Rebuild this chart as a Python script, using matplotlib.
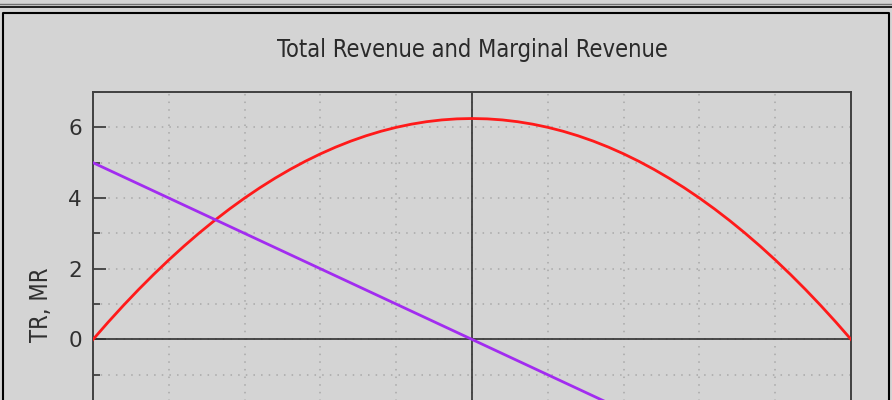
import matplotlib
matplotlib.use("Agg")
import matplotlib.pyplot as plt
from matplotlib.ticker import MultipleLocator
from matplotlib.lines import Line2D

# quantity and the two revenue series
q = [0.0, 0.1, 0.2, 0.3, 0.4, 0.5, 0.6, 0.7, 0.8, 0.9,
     1.0, 1.1, 1.2, 1.3, 1.4, 1.5, 1.6, 1.7, 1.8, 1.9,
     2.0, 2.1, 2.2, 2.3, 2.4, 2.5, 2.6, 2.7, 2.8, 2.9,
     3.0, 3.1, 3.2, 3.3, 3.4, 3.5, 3.6, 3.7, 3.8, 3.9,
     4.0, 4.1, 4.2, 4.3, 4.4, 4.5, 4.6, 4.7, 4.8, 4.9, 5.0]
tr = [0.00, 0.49, 0.96, 1.41, 1.84, 2.25, 2.64, 3.01, 3.36, 3.69,
      4.00, 4.29, 4.56, 4.81, 5.04, 5.25, 5.44, 5.61, 5.76, 5.89,
      6.00, 6.09, 6.16, 6.21, 6.24, 6.25, 6.24, 6.21, 6.16, 6.09,
      6.00, 5.89, 5.76, 5.61, 5.44, 5.25, 5.04, 4.81, 4.56, 4.29,
      4.00, 3.69, 3.36, 3.01, 2.64, 2.25, 1.84, 1.41, 0.96, 0.49, 0.00]
mr_q = [0, 5]
mr = [5, -5]
q_peak = 2.5

title = "Total Revenue and Marginal Revenue"
ylabel = "TR, MR"

bg = "#d4d4d4"
plt.rcParams['font.family'] = ['DejaVu Sans']

fig = plt.figure(figsize=(8.92, 4.0), dpi=100, facecolor=bg)
# only the upper part of the plot is visible in the window
ax = fig.add_axes([0.1043, -0.0077, 0.8498, 0.7777])
ax.set_facecolor(bg)

ax.set_xlim(0, 5)
ax.set_ylim(-1.8, 7)

ax.xaxis.set_major_locator(MultipleLocator(0.5))
ax.yaxis.set_major_locator(MultipleLocator(2))
ax.yaxis.set_minor_locator(MultipleLocator(1))
ax.grid(True, which='both', linestyle=(0, (1, 4)), color='#a8a8a8', linewidth=1.1)
ax.tick_params(axis='y', which='major', direction='in', length=9, width=1.3,
               color='#404040', labelsize=15.5, pad=8, labelcolor='#303030')
ax.tick_params(axis='y', which='minor', direction='in', length=5, width=1.3, color='#404040')
ax.tick_params(axis='x', length=0, labelbottom=False)
for s in ax.spines.values():
    s.set_color('#404040')
    s.set_linewidth(1.4)

ax.axhline(0, color='#303030', lw=1.2, zorder=2)
ax.axvline(q_peak, color='#303030', lw=1.2, zorder=2)

ax.plot(q, tr, color='#ff1a1a', lw=2.0, zorder=3)
ax.plot(mr_q, mr, color='#a22cf0', lw=2.0, zorder=3)

ax.set_ylabel(ylabel, fontsize=17, color='#303030', fontstretch='condensed')
ax.yaxis.set_label_coords(-0.053, 0.315)

fig.text(0.530, 0.875, title, ha='center', va='center', fontsize=17,
         fontstretch='condensed', color='#2a2a2a')

# window frame around the plot
fig.add_artist(Line2D([0, 1], [1 - 4/400, 1 - 4/400], color='#707070', lw=1))
fig.add_artist(Line2D([0, 1], [1 - 7/400, 1 - 7/400], color='black', lw=1.2))
fig.add_artist(Line2D([3/892, 3/892, 889/892, 889/892], [0, 1 - 13/400, 1 - 13/400, 0],
                      color='black', lw=1.5))

fig.savefig("out.png", dpi=100, facecolor=bg)
